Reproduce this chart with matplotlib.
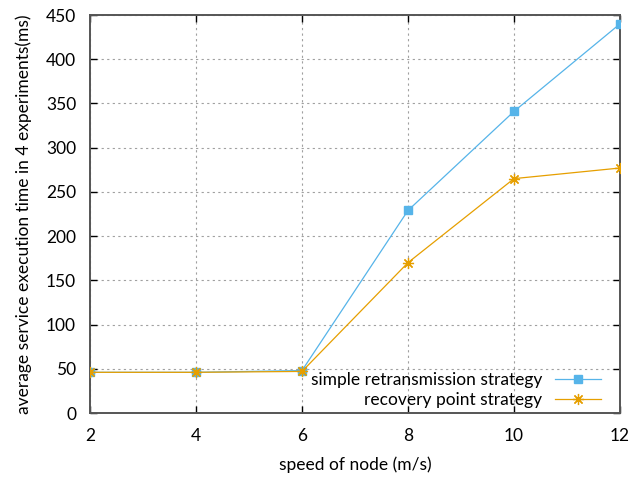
import matplotlib
matplotlib.use("Agg")
import matplotlib.pyplot as plt

plt.rcParams['font.family'] = ['Lato', 'DejaVu Sans']

speeds = [2, 4, 6, 8, 10, 12]
simple_retx = [46, 46, 48, 229, 341, 440]
recovery_point = [46, 46, 47, 170, 265, 277]
x_ticks = [2, 4, 6, 8, 10, 12]
y_ticks = [0, 50, 100, 150, 200, 250, 300, 350, 400, 450]

W, H = 630, 478
fig = plt.figure(figsize=(W / 100, H / 100), dpi=100)
ax = fig.add_axes([90 / W, 1 - 413 / H, 530 / W, 398 / H])

l1, = ax.plot(speeds, simple_retx, color='#56B4E9', lw=0.9, marker='s', ms=5.5,
              label='simple retransmission strategy', zorder=3)
l2, = ax.plot(speeds, recovery_point, color='#E69F00', lw=0.9, marker=(8, 2, 0), ms=8,
              mew=0.9, label='recovery point strategy', zorder=4)

ax.set_xlim(2, 12)
ax.set_ylim(0, 450)
ax.set_xticks(x_ticks)
ax.set_yticks(y_ticks)
ax.tick_params(direction='in', top=True, right=True, length=5, width=1,
               labelsize=12.5, colors='black')
ax.tick_params(axis='y', pad=10)
ax.tick_params(axis='x', pad=11)
for s in ax.spines.values():
    s.set_color('#555555')
    s.set_linewidth(1.4)
ax.grid(True, color='#a0a0a0', linestyle=(0, (2, 3)), linewidth=0.8)
ax.set_axisbelow(True)

ax.set_xlabel('speed of node (m/s)', fontsize=12.5, labelpad=9)
ax.set_ylabel('average service execution time in 4 experiments(ms)', fontsize=12.5, labelpad=10)

# one key per row so every label ends flush against its sample line
for handle, row_y in ((l1, 380), (l2, 400)):
    leg = fig.legend(handles=[handle], loc='center right', markerfirst=False,
                     frameon=False, fontsize=12.5, handlelength=2.65,
                     handletextpad=0.75, borderpad=0, borderaxespad=0,
                     bbox_to_anchor=(601 / W, 1 - row_y / H))

fig.savefig('out.png', dpi=100)
